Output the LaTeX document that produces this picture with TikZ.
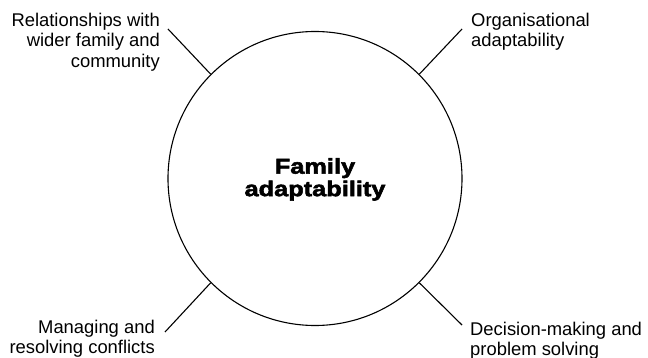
\documentclass[tikz,border=0pt]{standalone}
\usepackage{fontspec}
\setmainfont{Liberation Sans}
\newfontfamily\heavyfont[FakeStretch=1.19,FakeBold=2.6]{Liberation Sans Bold}
\begin{document}
\begin{tikzpicture}[x=1pt,y=-1pt,
  lbl/.style={inner sep=0pt,font=\fontsize{18.4}{20.3}\selectfont},
  conn/.style={line width=1.1pt}]
\useasboundingbox (0,0) rectangle (648,358);
\node[circle,draw,line width=1.1pt,minimum size=294pt,inner sep=0pt] (c) at (315,178.5) {};
\node[inner sep=0pt,anchor=north,align=center,font=\heavyfont\fontsize{21.3}{22.5}\selectfont] (t) at (315,158) {Family\\adaptability};
\node[lbl,anchor=north east,align=right] (ul) at (160,13) {Relationships with\\wider family and\\community};
\node[lbl,anchor=north west,align=left] (ur) at (471,12.5) {Organisational\\adaptability};
\node[lbl,anchor=north east,align=right] (ll) at (155,320) {Managing and\\resolving conflicts};
\node[lbl,anchor=north west,align=left] (lr) at (470,321.5) {Decision-making and\\problem solving};
\coordinate (eul) at (168,29);
\coordinate (eur) at (462,29);
\coordinate (ell) at (165,332);
\coordinate (elr) at (462,325);
\draw[conn] (c.135) -- (eul);
\draw[conn] (c.45) -- (eur);
\draw[conn] (c.225) -- (ell);
\draw[conn] (c.315) -- (elr);
\end{tikzpicture}
\end{document}
